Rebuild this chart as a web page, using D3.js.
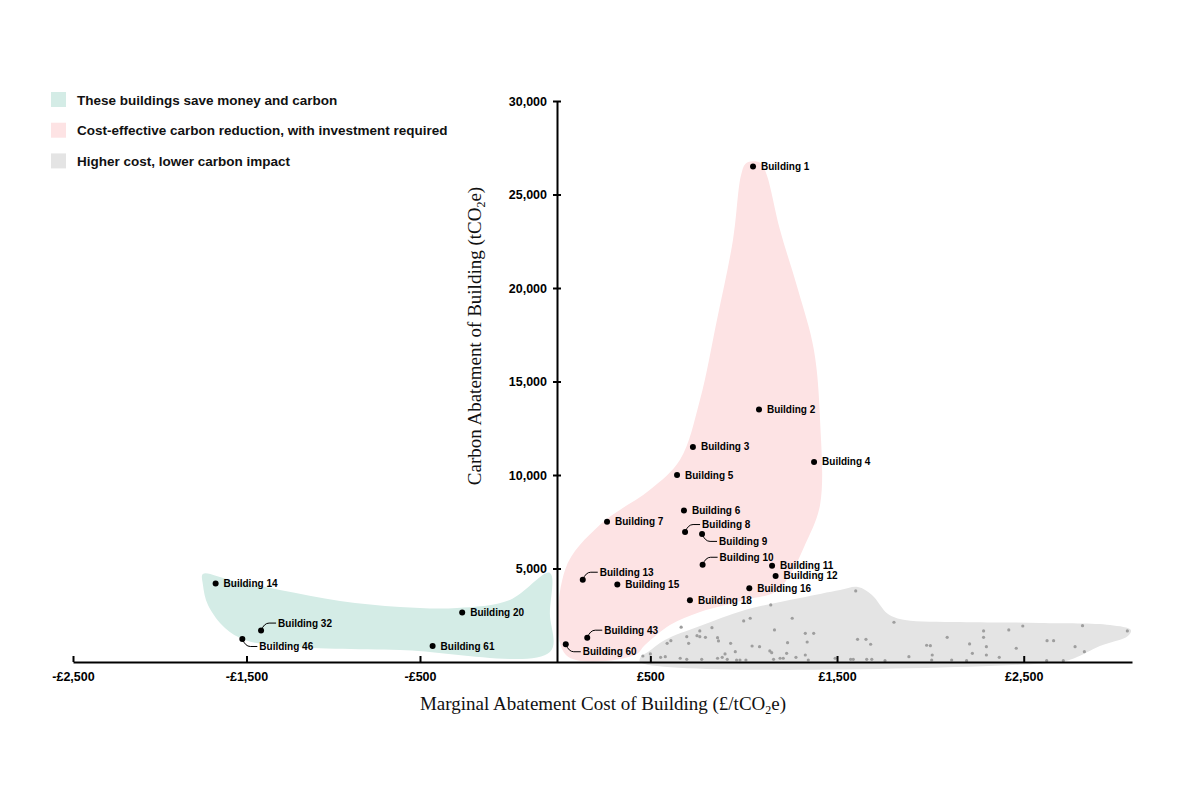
<!DOCTYPE html>
<html>
<head>
<meta charset="utf-8">
<script src="https://cdn.jsdelivr.net/npm/d3@7"></script>
<style>
    body { margin: 0; background: #fff; }
    .tick text { font-family: "Liberation Sans", Arial, sans-serif; font-weight: bold; font-size: 12.5px; fill: #000; }
    .axis-title { font-family: "Liberation Serif", "Times New Roman", serif; font-size: 19px; fill: #111; }
    .pt-label { font-family: "Liberation Sans", Arial, sans-serif; font-weight: bold; font-size: 10px; fill: #000; }
    .legend text { font-family: "Liberation Sans", Arial, sans-serif; font-weight: bold; font-size: 13.5px; fill: #111; }
</style>
</head>
<body>
<div id="chart"></div>
<script>
// labelled buildings: marginal abatement cost (£/tCO2e) and carbon abatement (tCO2e)
const buildingNames = ["Building 1", "Building 2", "Building 3", "Building 4", "Building 5", "Building 6",
    "Building 7", "Building 8", "Building 9", "Building 10", "Building 11", "Building 12", "Building 13",
    "Building 15", "Building 16", "Building 18", "Building 43", "Building 60",
    "Building 14", "Building 32", "Building 46", "Building 20", "Building 61"];
const buildingCost = [1050, 1082, 728, 1377, 643, 680, 268, 686, 777, 780, 1152, 1171, 138,
    323, 1030, 712, 162, 47, -1678, -1416, -1524, -346, -454];
const buildingCarbon = [26500, 13500, 11500, 10700, 10000, 8100, 7500, 6950, 6850, 5200, 5150, 4600, 4400,
    4150, 3950, 3300, 1300, 950, 4200, 1680, 1230, 2650, 850];

// labels that sit on a short leader line instead of next to the dot
const calloutUp = ["Building 8", "Building 10", "Building 13", "Building 32", "Building 43"];
const calloutDown = ["Building 9", "Building 46", "Building 60"];

// the rest of the portfolio (unlabelled grey dots)
const otherCost = [1600, 1145, 1035, 1000, 1260, 1805, 665, 830, 765, 1165,
    750, 765, 695, 795, 860, 865, 1330, 1375, 2285, 2285,
    2420, 2495, 2815, 3055, 610, 590, 705, 930, 1235, 1340,
    1610, 1655, 1680, 2090, 2210, 2300, 2625, 2660, 2775, 2825,
    2460, 1980, 2000, 1045, 1085, 1140, 1150, 955, 900, 1230,
    1330, 2225, 2300, 2010, 1885, 460, 500, 555, 580, 660,
    695, 775, 860, 885, 912, 962, 980, 1012, 1160, 1195,
    1212, 1280, 1346, 1490, 1573, 1587, 1659, 1686, 1757, 2007,
    2114, 2194, 2369, 2623, 2712];
const otherCarbon = [3800, 3050, 2340, 2195, 2340, 2125, 1860, 1835, 1660, 1715,
    1410, 1355, 1355, 1320, 1300, 1125, 1535, 1535, 1660, 1320,
    1715, 1925, 1945, 1660, 1140, 1000, 1000, 1000, 1035, 1070,
    1215, 1215, 950, 1320, 965, 820, 1140, 1140, 820, 550,
    735, 895, 875, 855, 820, 590, 500, 550, 430, 465,
    375, 465, 375, 375, 285, 320, 430, 250, 285, 200,
    145, 145, 200, 250, 145, 107, 107, 107, 145, 200,
    200, 250, 107, 200, 145, 145, 145, 145, 70, 107,
    107, 70, 250, 70, 70];

// shaded zones, outlined in data units [cost, carbon]
const savingZone = [[-1751, 4710], [-1595, 4390], [-1307, 3850], [-961, 3265], [-615, 2945], [-365, 2890],
    [-172, 3320], [-26, 4765], [-26, 2600], [-26, 535], [-615, 640], [-1307, 855], [-1509, 1180],
    [-1624, 1820], [-1722, 3050], [-1751, 4120]];
const investZone = [[1010, 26650], [1050, 26780], [1095, 26650], [1125, 26000], [1194, 23125],
    [1291, 19910], [1376, 16700], [1409, 12950], [1409, 8400], [1328, 6260], [1248, 4655], [1168, 3745],
    [1007, 3320], [766, 2675], [605, 1980], [471, 910], [418, 375], [48, 375], [43, 4925], [230, 7335],
    [498, 9205], [659, 10815], [766, 14025], [857, 18305], [943, 22590], [985, 26000]];
const costlyZone = [[445, 0], [450, 300], [487, 535], [578, 1180], [766, 1930], [1007, 2785], [1301, 3425],
    [1516, 3855], [1612, 4015], [1687, 3585], [1773, 2570], [1864, 2250], [2158, 2140], [2587, 2090],
    [2962, 1980], [3074, 1710], [3058, 1390], [2908, 855], [2774, 215], [2694, 0]];

const legendLabels = ["These buildings save money and carbon",
    "Cost-effective carbon reduction, with investment required",
    "Higher cost, lower carbon impact"];
const legendColors = ["#d4ece6", "#fde3e4", "#e4e4e4"];

const xTicks = [-2500, -1500, -500, 500, 1500, 2500];
const yTicks = [5000, 10000, 15000, 20000, 25000, 30000];

class MacScatterVis {

    constructor(parentElement) {
        this.parentElement = parentElement;
        this.initVis();
    }

    initVis() {
        let vis = this;

        vis.svg = d3.select("#" + vis.parentElement).append("svg")
            .attr("width", 1200)
            .attr("height", 802);

        // cost axis is stretched between -500 and 0 like the original
        vis.xScale = d3.scaleLinear()
            .domain([-2500, -500, 0, 3080])
            .range([73, 420, 557, 1132]);
        vis.yScale = d3.scaleLinear()
            .domain([0, 30000])
            .range([662, 101]);

        vis.buildings = buildingNames.map((name, i) => ({
            name: name, cost: buildingCost[i], carbon: buildingCarbon[i]
        }));
        vis.others = otherCost.map((c, i) => ({cost: c, carbon: otherCarbon[i]}));

        vis.updateVis();
    }

    updateVis() {
        this.drawZones();
        this.drawAxes();
        this.drawPoints();
        this.drawLegend();
    }

    drawZones() {
        let vis = this;
        const area = d3.line()
            .x(d => vis.xScale(d[0]))
            .y(d => vis.yScale(d[1]))
            .curve(d3.curveCatmullRomClosed.alpha(0.5));

        const zones = [savingZone, investZone, costlyZone];
        vis.svg.append("g").attr("class", "zones")
            .selectAll("path")
            .data(zones)
            .enter().append("path")
            .attr("d", area)
            .attr("fill", (d, i) => legendColors[i]);

        vis.svg.append("g").attr("class", "others")
            .selectAll("circle")
            .data(vis.others)
            .enter().append("circle")
            .attr("cx", d => vis.xScale(d.cost))
            .attr("cy", d => vis.yScale(d.carbon))
            .attr("r", 1.6)
            .attr("fill", "#9e9e9e");
    }

    drawAxes() {
        let vis = this;

        const xAxis = d3.axisBottom(vis.xScale)
            .tickValues(xTicks)
            .tickSizeInner(-6)
            .tickSizeOuter(0)
            .tickPadding(10)
            .tickFormat(d => (d < 0 ? "-£" : "£") + d3.format(",")(Math.abs(d)));

        const xg = vis.svg.append("g")
            .attr("class", "x-axis")
            .attr("transform", `translate(0,${vis.yScale(0)})`)
            .call(xAxis);
        xg.select(".domain").attr("stroke", "#000").attr("stroke-width", 2);
        xg.selectAll(".tick line").attr("stroke", "#000").attr("stroke-width", 2);

        const yAxis = d3.axisLeft(vis.yScale)
            .tickValues(yTicks)
            .tickSizeInner(4)
            .tickSizeOuter(0)
            .tickPadding(6)
            .tickFormat(d3.format(","));

        const yg = vis.svg.append("g")
            .attr("class", "y-axis")
            .attr("transform", `translate(${vis.xScale(0)},0)`)
            .call(yAxis);
        yg.select(".domain").attr("stroke", "#000").attr("stroke-width", 2);
        yg.selectAll(".tick line").attr("x1", -4).attr("x2", 4)
            .attr("stroke", "#000").attr("stroke-width", 2);

        // axis titles
        const xt = vis.svg.append("text")
            .attr("class", "axis-title")
            .attr("x", 603)
            .attr("y", 710)
            .attr("text-anchor", "middle");
        xt.append("tspan").text("Marginal Abatement Cost of Building (£/tCO");
        xt.append("tspan").attr("dy", 4).attr("font-size", 12).text("2");
        xt.append("tspan").attr("dy", -4).text("e)");

        const yt = vis.svg.append("text")
            .attr("class", "axis-title")
            .attr("transform", "translate(481,336) rotate(-90)")
            .attr("text-anchor", "middle");
        yt.append("tspan").text("Carbon Abatement of Building (tCO");
        yt.append("tspan").attr("dy", 4).attr("font-size", 12).text("2");
        yt.append("tspan").attr("dy", -4).text("e)");
    }

    drawPoints() {
        let vis = this;
        const g = vis.svg.append("g").attr("class", "buildings");

        g.selectAll("circle")
            .data(vis.buildings)
            .enter().append("circle")
            .attr("cx", d => vis.xScale(d.cost))
            .attr("cy", d => vis.yScale(d.carbon))
            .attr("r", 3)
            .attr("fill", "#000");

        vis.buildings.forEach(d => {
            const x = vis.xScale(d.cost), y = vis.yScale(d.carbon);
            let dir = 0;
            if (calloutUp.includes(d.name)) dir = -1;
            if (calloutDown.includes(d.name)) dir = 1;

            if (dir === 0) {
                g.append("text").attr("class", "pt-label")
                    .attr("x", x + 8).attr("y", y + 3.5)
                    .text(d.name);
            } else {
                const ly = y + dir * 7.5;
                g.append("path")
                    .attr("d", `M${x},${y} Q${x + 3},${ly} ${x + 8},${ly} L${x + 15},${ly}`)
                    .attr("fill", "none")
                    .attr("stroke", "#000")
                    .attr("stroke-width", 1);
                g.append("text").attr("class", "pt-label")
                    .attr("x", x + 17).attr("y", ly + 3.5)
                    .text(d.name);
            }
        });
    }

    drawLegend() {
        let vis = this;
        const items = vis.svg.append("g").attr("class", "legend")
            .selectAll("g")
            .data(legendLabels)
            .enter().append("g")
            .attr("transform", (d, i) => `translate(51,${92 + i * 30.7})`);

        items.append("rect")
            .attr("width", 15).attr("height", 15)
            .attr("fill", (d, i) => legendColors[i]);
        items.append("text")
            .attr("x", 26).attr("y", 12.5)
            .text(d => d);
    }
}

new MacScatterVis("chart");
</script>
</body>
</html>
